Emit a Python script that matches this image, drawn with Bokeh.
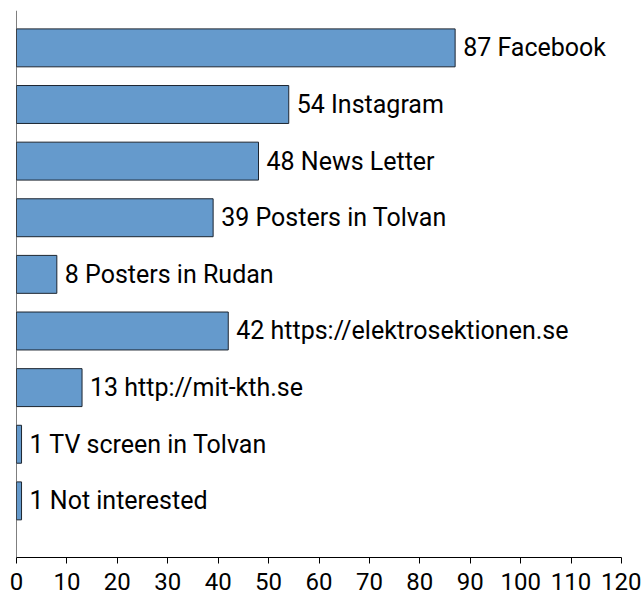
from bokeh.plotting import figure
from bokeh.models import Span, FixedTicker, ColumnDataSource
from bokeh.core.properties import value
from bokeh.embed import file_html
from bokeh.resources import INLINE

# Data (top to bottom as displayed)
categories = ["Facebook", "Instagram", "News Letter", "Posters in Tolvan",
              "Posters in Rudan", "https://elektrosektionen.se", "http://mit-kth.se",
              "TV screen in Tolvan", "Not interested"]
counts = [87, 54, 48, 39, 8, 42, 13, 1, 1]
x_ticks = [0, 10, 20, 30, 40, 50, 60, 70, 80, 90, 100, 110, 120]

n = len(categories)
ypos = [n - 1 - i for i in range(n)]
labels = [f"{v} {c}" for v, c in zip(counts, categories)]
src = ColumnDataSource(dict(y=ypos, v=counts, label=labels))

FONT = "Roboto"

p = figure(output_backend="svg", toolbar_location=None,
           x_range=(0, 120), y_range=(-1.0, 8.66),
           frame_width=605, frame_height=547,
           min_border_left=16, min_border_top=10, min_border_right=20, min_border_bottom=38)
p.outline_line_color = None
p.grid.visible = False
p.background_fill_color = "white"
p.border_fill_color = "white"

p.hbar(y="y", left=0, right="v", height=0.67, source=src,
       fill_color="#659acc", line_color="#1c2530", line_width=1)
p.text(x="v", y="y", text="label", source=src, x_offset=8,
       text_baseline="middle", text_align="left",
       text_font=value(FONT), text_font_size="25px", text_color="#000000")

p.yaxis.visible = False
p.add_layout(Span(location=0, dimension="height", line_color="#000000", line_width=1))

xa = p.xaxis[0]
xa.ticker = FixedTicker(ticks=x_ticks)
xa.axis_line_color = "#000000"
xa.axis_line_width = 1
xa.major_tick_line_color = "#000000"
xa.major_tick_out = 6
xa.major_tick_in = 0
xa.minor_tick_line_color = None
xa.major_label_text_font = FONT
xa.major_label_text_font_size = "24px"
xa.major_label_text_color = "#000000"
xa.major_label_standoff = 9

open("out.html", "w").write(file_html(p, INLINE))
